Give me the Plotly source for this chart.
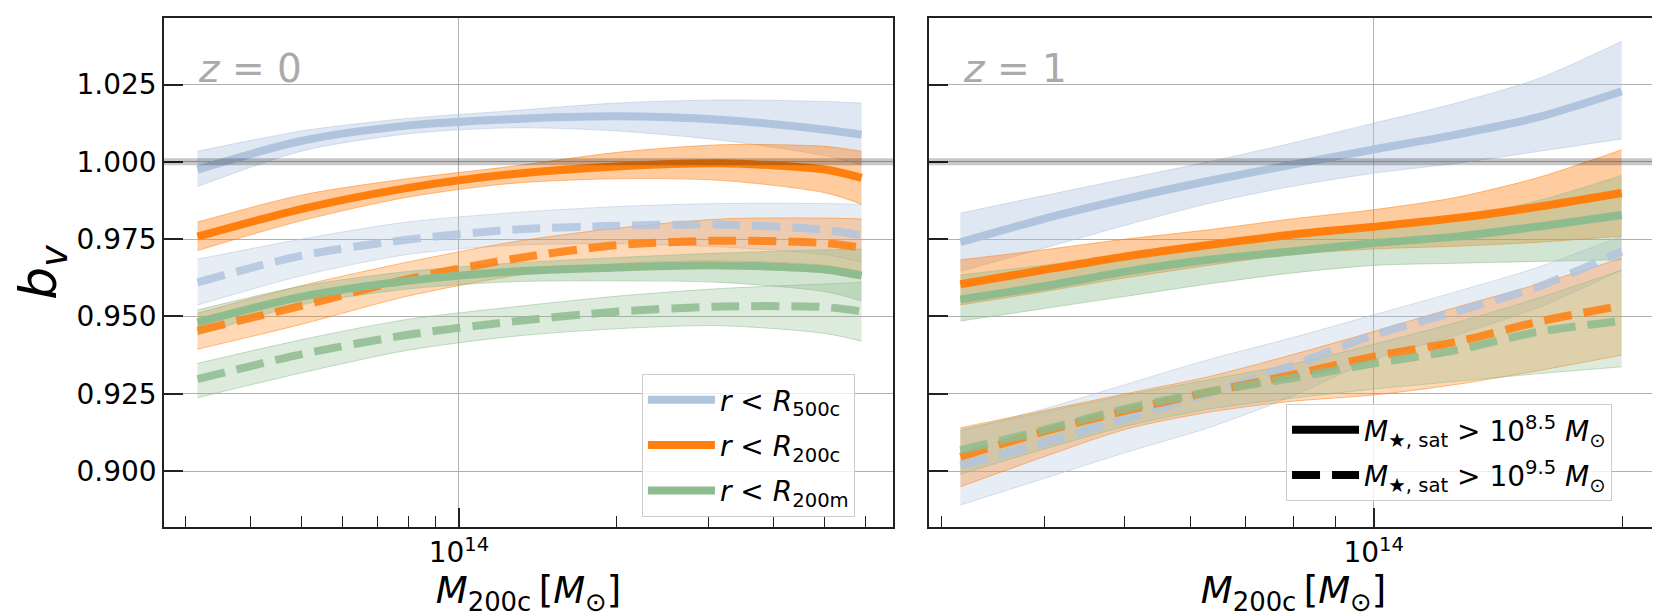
import numpy as np
import plotly.graph_objects as go

# log10(M200c / Msun) at which the curves are sampled
logm_z0 = [13.5, 13.7, 13.9, 14.1, 14.3, 14.5, 14.7, 14.77]
logm_z1 = [13.5, 13.6, 13.7, 13.8, 13.9, 14.0, 14.1, 14.2, 14.3]

# z = 0, M*,sat > 10^8.5 (solid)
r500c_z0 = [0.9975, 1.0068, 1.0117, 1.0138, 1.0147, 1.0136, 1.0104, 1.0088]
r500c_z0_hi = [1.0034, 1.0100, 1.0140, 1.0165, 1.0190, 1.0200, 1.0195, 1.0190]
r500c_z0_lo = [0.9920, 1.0035, 1.0090, 1.0110, 1.0100, 1.0070, 1.0020, 0.9990]
r200c_z0 = [0.9758, 0.9848, 0.9915, 0.9960, 0.9985, 0.9995, 0.9975, 0.9948]
r200c_z0_hi = [0.9805, 0.9893, 0.9945, 0.9985, 1.0030, 1.0055, 1.0050, 1.0034]
r200c_z0_lo = [0.9713, 0.9810, 0.9885, 0.9930, 0.9945, 0.9940, 0.9900, 0.9863]
r200m_z0 = [0.9481, 0.9564, 0.9615, 0.9645, 0.9658, 0.9665, 0.9652, 0.9632]
r200m_z0_hi = [0.9521, 0.9598, 0.9645, 0.9672, 0.9690, 0.9705, 0.9715, 0.9718]
r200m_z0_lo = [0.9440, 0.9538, 0.9588, 0.9612, 0.9615, 0.9610, 0.9580, 0.9550]

# z = 0, M*,sat > 10^9.5 (dashed)
r500c_z0_d = [0.9610, 0.9697, 0.9748, 0.9780, 0.9793, 0.9797, 0.9780, 0.9762]
r500c_z0_d_hi = [0.9685, 0.9750, 0.9805, 0.9835, 0.9855, 0.9865, 0.9865, 0.9862]
r500c_z0_d_lo = [0.9537, 0.9632, 0.9700, 0.9730, 0.9735, 0.9725, 0.9700, 0.9675]
r200c_z0_d = [0.9454, 0.9535, 0.9620, 0.9685, 0.9730, 0.9745, 0.9737, 0.9723]
r200c_z0_d_hi = [0.9510, 0.9600, 0.9675, 0.9740, 0.9785, 0.9815, 0.9818, 0.9815]
r200c_z0_d_lo = [0.9394, 0.9475, 0.9565, 0.9630, 0.9670, 0.9680, 0.9665, 0.9645]
r200m_z0_d = [0.9297, 0.9378, 0.9440, 0.9483, 0.9515, 0.9532, 0.9530, 0.9516]
r200m_z0_d_hi = [0.9348, 0.9425, 0.9490, 0.9530, 0.9565, 0.9590, 0.9605, 0.9610]
r200m_z0_d_lo = [0.9237, 0.9318, 0.9390, 0.9435, 0.9460, 0.9470, 0.9445, 0.9420]

# z = 1, solid
r500c_z1 = [0.9740, 0.9815, 0.9880, 0.9938, 0.9990, 1.0040, 1.0088, 1.0145, 1.0228]
r500c_z1_hi = [0.9834, 0.9890, 0.9945, 1.0000, 1.0060, 1.0125, 1.0190, 1.0270, 1.0390]
r500c_z1_lo = [0.9646, 0.9720, 0.9795, 0.9865, 0.9920, 0.9963, 0.9995, 1.0034, 1.0074]
r200c_z1 = [0.9604, 0.9650, 0.9694, 0.9731, 0.9764, 0.9790, 0.9818, 0.9855, 0.9899]
r200c_z1_hi = [0.9683, 0.9715, 0.9750, 0.9780, 0.9815, 0.9845, 0.9885, 0.9950, 1.0039]
r200c_z1_lo = [0.9537, 0.9580, 0.9625, 0.9665, 0.9700, 0.9718, 0.9727, 0.9740, 0.9760]
r200m_z1 = [0.9555, 0.9597, 0.9645, 0.9683, 0.9710, 0.9737, 0.9758, 0.9791, 0.9828]
r200m_z1_hi = [0.9634, 0.9665, 0.9695, 0.9725, 0.9755, 0.9785, 0.9820, 0.9875, 0.9956]
r200m_z1_lo = [0.9485, 0.9525, 0.9565, 0.9605, 0.9640, 0.9665, 0.9672, 0.9678, 0.9683]

# z = 1, dashed
r500c_z1_d = [0.9019, 0.9090, 0.9170, 0.9250, 0.9340, 0.9440, 0.9516, 0.9597, 0.9710]
r500c_z1_d_hi = [0.9130, 0.9200, 0.9280, 0.9360, 0.9430, 0.9505, 0.9580, 0.9660, 0.9760]
r500c_z1_d_lo = [0.8890, 0.8975, 0.9060, 0.9140, 0.9240, 0.9360, 0.9440, 0.9530, 0.9650]
r200c_z1_d = [0.9046, 0.9127, 0.9195, 0.9255, 0.9310, 0.9370, 0.9418, 0.9483, 0.9535]
r200c_z1_d_hi = [0.9140, 0.9195, 0.9250, 0.9305, 0.9375, 0.9451, 0.9530, 0.9605, 0.9688]
r200c_z1_d_lo = [0.8949, 0.9045, 0.9135, 0.9190, 0.9225, 0.9246, 0.9280, 0.9325, 0.9375]
r200m_z1_d = [0.9067, 0.9132, 0.9202, 0.9256, 0.9300, 0.9348, 0.9391, 0.9451, 0.9485]
r200m_z1_d_hi = [0.9135, 0.9190, 0.9245, 0.9295, 0.9345, 0.9410, 0.9480, 0.9560, 0.9650]
r200m_z1_d_lo = [0.8990, 0.9070, 0.9145, 0.9200, 0.9235, 0.9265, 0.9290, 0.9315, 0.9337]

y_ticks = [0.900, 0.925, 0.950, 0.975, 1.000, 1.025]

BLUE = (176, 196, 222)
ORANGE = (255, 127, 14)
GREEN = (143, 188, 143)

labels = ["<i>r</i> < <i>R</i><sub>500c</sub>",
          "<i>r</i> < <i>R</i><sub>200c</sub>",
          "<i>r</i> < <i>R</i><sub>200m</sub>"]


def rgba(c, a):
    return "rgba(%d,%d,%d,%s)" % (c[0], c[1], c[2], a)


# (logm, mean, lo, hi, colour, dashed, xaxis, yaxis, legend label)
curves = [
    (logm_z0, r500c_z0, r500c_z0_lo, r500c_z0_hi, BLUE, False, "x", "y", labels[0]),
    (logm_z0, r500c_z0_d, r500c_z0_d_lo, r500c_z0_d_hi, BLUE, True, "x", "y", None),
    (logm_z0, r200c_z0, r200c_z0_lo, r200c_z0_hi, ORANGE, False, "x", "y", labels[1]),
    (logm_z0, r200c_z0_d, r200c_z0_d_lo, r200c_z0_d_hi, ORANGE, True, "x", "y", None),
    (logm_z0, r200m_z0, r200m_z0_lo, r200m_z0_hi, GREEN, False, "x", "y", labels[2]),
    (logm_z0, r200m_z0_d, r200m_z0_d_lo, r200m_z0_d_hi, GREEN, True, "x", "y", None),
    (logm_z1, r500c_z1, r500c_z1_lo, r500c_z1_hi, BLUE, False, "x2", "y2", None),
    (logm_z1, r500c_z1_d, r500c_z1_d_lo, r500c_z1_d_hi, BLUE, True, "x2", "y2", None),
    (logm_z1, r200c_z1, r200c_z1_lo, r200c_z1_hi, ORANGE, False, "x2", "y2", None),
    (logm_z1, r200c_z1_d, r200c_z1_d_lo, r200c_z1_d_hi, ORANGE, True, "x2", "y2", None),
    (logm_z1, r200m_z1, r200m_z1_lo, r200m_z1_hi, GREEN, False, "x2", "y2", None),
    (logm_z1, r200m_z1_d, r200m_z1_d_lo, r200m_z1_d_hi, GREEN, True, "x2", "y2", None),
]

fig = go.Figure()

# shaded bands first
for logm, mean, lo, hi, color, dashed, xa, ya, name in curves:
    m = 10 ** np.array(logm)
    edge = dict(color=rgba(color, 0.5), width=1, shape="spline", smoothing=0.8)
    fig.add_trace(go.Scatter(x=m, y=hi, mode="lines", line=edge, showlegend=False,
                             hoverinfo="skip", xaxis=xa, yaxis=ya))
    fig.add_trace(go.Scatter(x=m, y=lo, mode="lines", line=edge, fill="tonexty",
                             fillcolor=rgba(color, 0.3 if dashed else 0.4),
                             showlegend=False, hoverinfo="skip", xaxis=xa, yaxis=ya))

# then the median lines on top
for logm, mean, lo, hi, color, dashed, xa, ya, name in curves:
    m = 10 ** np.array(logm)
    fig.add_trace(go.Scatter(
        x=m, y=mean, mode="lines", xaxis=xa, yaxis=ya,
        line=dict(color=rgba(color, 0.85 if dashed else 1), width=8,
                  dash="28px,12px" if dashed else "solid", shape="spline", smoothing=0.8),
        name=name, showlegend=name is not None, legend="legend", legendgroup=name,
    ))

# legend proxies for the stellar mass cuts
for lab, dash in [("<i>M</i><sub>★, sat</sub> > 10<sup>8.5</sup> <i>M</i><sub>⊙</sub>", "solid"),
                  ("<i>M</i><sub>★, sat</sub> > 10<sup>9.5</sup> <i>M</i><sub>⊙</sub>", "28px,12px")]:
    fig.add_trace(go.Scatter(x=[None], y=[None], mode="lines", xaxis="x2", yaxis="y2",
                             line=dict(color="black", width=8, dash=dash),
                             name=lab, legend="legend2", legendgroup=lab))

# b_v = 1 reference line
for xr, yr in [("x domain", "y"), ("x2 domain", "y2")]:
    fig.add_shape(type="line", xref=xr, yref=yr, x0=0, x1=1, y0=1, y1=1,
                  line=dict(color="rgba(0,0,0,0.22)", width=7))

frame = dict(showline=True, mirror=True, linecolor="#222", linewidth=1.5,
             ticks="inside", ticklen=19, tickwidth=1.5, tickcolor="#222",
             showgrid=True, gridcolor="#b0b0b0", gridwidth=1.3, zeroline=False)

xtitle = dict(text="<i>M</i><sub>200c</sub>\u2009[<i>M</i><sub>⊙</sub>]",
              font=dict(size=37), standoff=6)

minor = dict(ticks="inside", ticklen=11, tickwidth=1.2, tickcolor="#222", showgrid=False)

fig.update_layout(
    width=1660, height=615,
    margin=dict(l=0, r=0, t=0, b=0),
    paper_bgcolor="white", plot_bgcolor="white",
    font=dict(family="DejaVu Sans", color="black"),
    xaxis=dict(frame, type="log", domain=[0.0940, 0.5331], range=[13.436, 14.830],
               anchor="y", tickvals=[1e14], ticktext=["10<sup>14</sup>"],
               tickfont=dict(size=28),
               minor=dict(minor, tickvals=[3e13, 4e13, 5e13, 6e13, 7e13, 8e13, 9e13,
                                           2e14, 3e14, 4e14, 5e14, 6e14]),
               title=xtitle),
    xaxis2=dict(frame, type="log", domain=[0.5548, 0.9940], range=[13.462, 14.344],
                anchor="y2", tickvals=[1e14], ticktext=["10<sup>14</sup>"],
                tickfont=dict(size=28),
                minor=dict(minor, tickvals=[3e13, 4e13, 5e13, 6e13, 7e13, 8e13, 9e13, 2e14]),
                title=xtitle),
    yaxis=dict(frame, domain=[0.1561, 0.9837], range=[0.8819, 1.0465], anchor="x",
               tickvals=y_ticks, tickformat=".3f", tickfont=dict(size=28),
               title=dict(text="<i>b</i><sub><i>v</i></sub>", font=dict(size=52), standoff=4)),
    yaxis2=dict(frame, domain=[0.1561, 0.9837], range=[0.8819, 1.0465], anchor="x2",
                matches="y", tickvals=y_ticks, showticklabels=False),
    legend=dict(x=0.3819, y=0.4049, xanchor="left", yanchor="top",
                bgcolor="rgba(255,255,255,0.8)", bordercolor="#cccccc", borderwidth=1,
                font=dict(size=28), itemwidth=67, tracegroupgap=6),
    legend2=dict(x=0.7699, y=0.3561, xanchor="left", yanchor="top",
                 bgcolor="rgba(255,255,255,0.8)", bordercolor="#cccccc", borderwidth=1,
                 font=dict(size=28), itemwidth=67, tracegroupgap=6),
    annotations=[
        dict(text="<i>z</i> = 0", xref="paper", yref="paper", x=188 / 1660, y=1 - 61 / 615,
             xanchor="left", yanchor="middle", showarrow=False,
             font=dict(size=39, color="#aaaaaa")),
        dict(text="<i>z</i> = 1", xref="paper", yref="paper", x=953 / 1660, y=1 - 61 / 615,
             xanchor="left", yanchor="middle", showarrow=False,
             font=dict(size=39, color="#aaaaaa")),
    ],
)

fig.write_html("out.html")
